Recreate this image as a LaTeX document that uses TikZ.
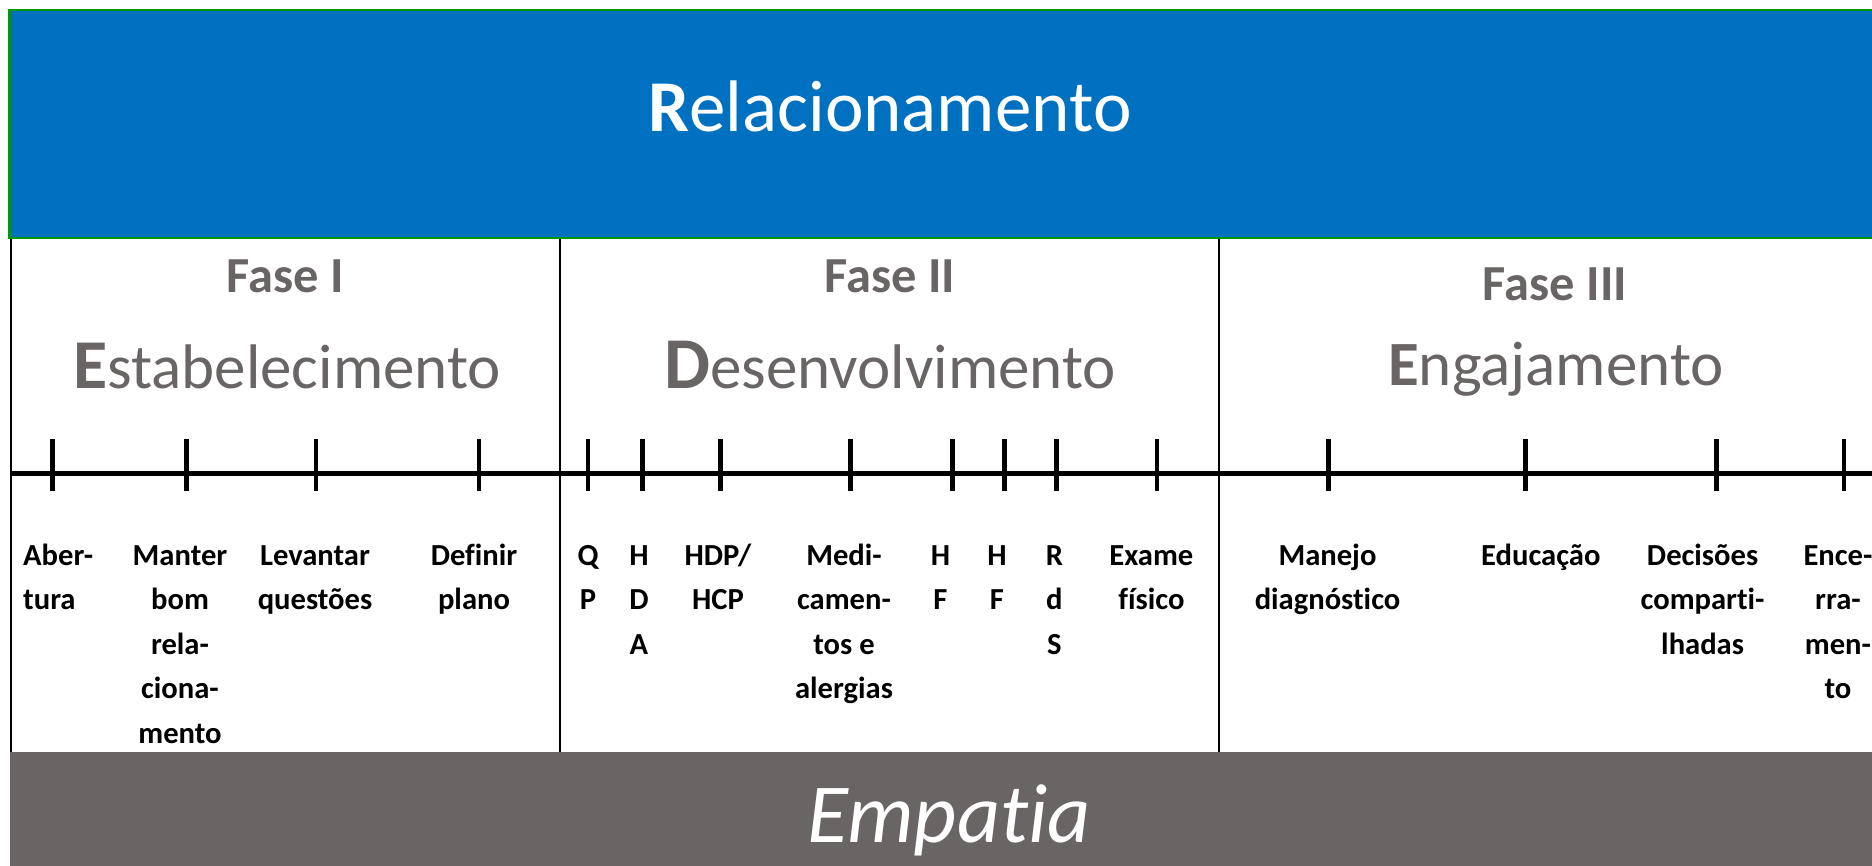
\documentclass[tikz,border=0pt]{standalone}
\usepackage{fontspec}
\setmainfont{Carlito}[Ligatures=NoCommon]
\definecolor{relblue}{RGB}{0,112,192}
\definecolor{relgreen}{RGB}{0,153,0}
\definecolor{phasegray}{RGB}{105,101,100}
\tikzset{
  fasetitle/.style={anchor=base, text=phasegray, inner sep=0pt, font=\fontsize{50.5}{60}\selectfont\bfseries},
  phasename/.style={anchor=base, text=phasegray, inner sep=0pt, font=\fontsize{63}{76}\selectfont},
  steplabel/.style={anchor=base, inner sep=0pt, font=\fontsize{30.6}{44.5}\selectfont\bfseries},
  tickmark/.style={line width=4.5pt},
  divider/.style={line width=2pt},
}
\newcommand{\bigini}[2]{{\fontsize{#1}{#1}\selectfont\bfseries #2}}
\newcommand{\lblc}[1]{\begin{tabular}[t]{@{}c@{}}#1\end{tabular}}
\newcommand{\lbll}[1]{\begin{tabular}[t]{@{}l@{}}#1\end{tabular}}
\begin{document}
\begin{tikzpicture}[x=1pt,y=-1pt]
\useasboundingbox (0,0) rectangle (1872,866);
\clip (0,0) rectangle (1872,866);
% top band
\draw[fill=relblue, draw=relgreen, line width=2.5pt] (9.5,10) rectangle (1890,238);
\node[anchor=base, text=white, inner sep=0pt, font=\fontsize{73}{86}\selectfont] (rel) at (890,132) {\textbf{R}elacionamento};
% bottom band
\fill[phasegray] (9.5,752) rectangle (1890,880);
\node[anchor=base, text=white, inner sep=0pt, font=\fontsize{84}{100}\selectfont\itshape] (emp) at (949,842) {Empatia};
% borders / dividers
\draw[divider] (11,239) -- (11,752);
\draw[divider] (559.5,239) -- (559.5,752);
\draw[divider] (1219,239) -- (1219,752);
% timeline
\draw[line width=5pt] (11,473.5) -- (1890,473.5);
\foreach \x in {52.7,186.5,316,479,588.2,642.4,720.5,850.5,952.5,1004.5,1056.5,1157.1,1328.6,1525.7,1716.6,1844}
  \draw[tickmark] (\x,439) -- (\x,491);
% phase titles
\node[fasetitle] (f1) at (285,293) {Fase I};
\node[fasetitle] (f2) at (890,293) {Fase II};
\node[fasetitle] (f3) at (1555,301) {Fase III};
\node[phasename] (p1) at (287,389) {\bigini{70}{E}stabelecimento};
\node[phasename] (p2) at (890,389) {\bigini{73}{D}esenvolvimento};
\node[phasename] (p3) at (1556,386) {\bigini{63}{E}ngajamento};
% step labels
\node[steplabel, anchor=base west] (s1) at (23,565) {\lbll{Aber-\\tura}};
\node[steplabel] (s2) at (180,565) {\lblc{Manter\\bom\\rela-\\ciona-\\mento}};
\node[steplabel] (s3) at (315,565) {\lblc{Levantar\\questões}};
\node[steplabel] (s4) at (474,565) {\lblc{Definir\\plano}};
\node[steplabel] (s5) at (588,565) {\lblc{Q\\P}};
\node[steplabel] (s6) at (639,565) {\lblc{H\\D\\A}};
\node[steplabel] (s7) at (718,565) {\lblc{HDP/\\HCP}};
\node[steplabel] (s8) at (844,565) {\lblc{Medi-\\camen-\\tos e\\alergias}};
\node[steplabel] (s9) at (940.5,565) {\lblc{H\\F}};
\node[steplabel] (s10) at (997,565) {\lblc{H\\F}};
\node[steplabel] (s11) at (1054.4,565) {\lblc{R\\d\\S}};
\node[steplabel] (s12) at (1151.4,565) {\lblc{Exame\\físico}};
\node[steplabel] (s13) at (1327.5,565) {\lblc{Manejo\\diagnóstico}};
\node[steplabel] (s14) at (1540.8,565) {\lblc{Educação}};
\node[steplabel] (s15) at (1702.6,565) {\lblc{Decisões\\comparti-\\lhadas}};
\node[steplabel] (s16) at (1838,565) {\lblc{Ence-\\rra-\\men-\\to}};
\end{tikzpicture}
\end{document}
